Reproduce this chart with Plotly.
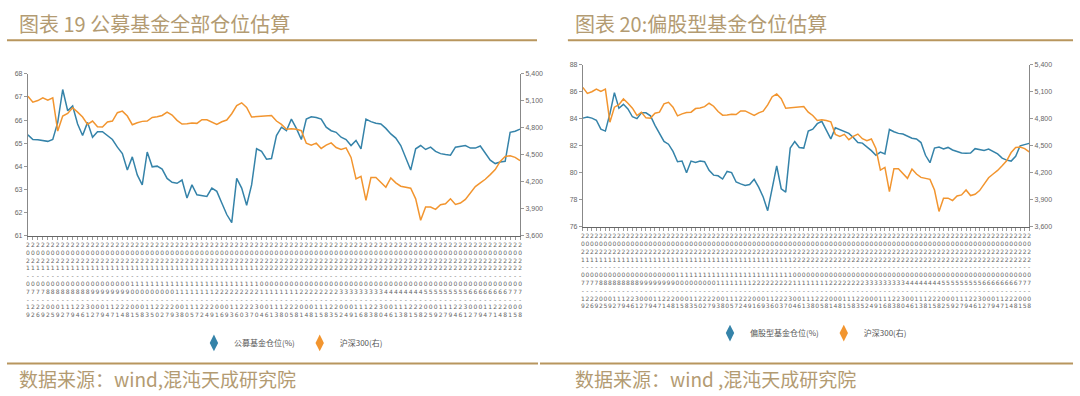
import plotly.graph_objects as go
import pandas as pd
import numpy as np

# ---------------- data ----------------
fund_all = [65.36, 65.16, 65.15, 65.12, 65.08, 65.16, 65.90, 67.32, 66.40, 66.61,
            65.83, 65.33, 65.90, 65.26, 65.50, 65.50, 65.33, 65.16, 64.83, 64.55,
            63.84, 64.41, 63.63, 63.20, 64.62, 63.98, 64.01, 63.88, 63.48, 63.31,
            63.27, 63.41, 62.63, 63.20, 62.77, 62.75, 62.70, 63.06, 62.92, 62.42,
            61.92, 61.57, 63.48, 63.06, 62.32, 63.20, 64.76, 64.65, 64.31, 64.34,
            65.33, 65.69, 65.54, 66.04, 65.64, 65.16, 66.04, 66.14, 66.11, 66.04,
            65.69, 65.54, 65.47, 65.26, 65.16, 64.90, 65.12, 64.76, 66.04, 65.93,
            65.86, 65.83, 65.64, 65.40, 65.22, 64.90, 64.37, 63.84, 64.76, 64.90,
            64.73, 64.83, 64.65, 64.55, 64.51, 64.48, 64.83, 64.86, 64.90, 64.79,
            64.79, 64.88, 64.55, 64.27, 64.12, 64.19, 64.22, 65.47, 65.52, 65.61]

fund_equity = [84.06, 84.14, 84.06, 83.90, 83.24, 83.10, 84.38, 85.95, 84.79, 85.08,
               84.74, 84.16, 84.02, 84.45, 84.45, 84.23, 83.53, 82.88, 82.33, 82.13,
               81.60, 80.83, 80.88, 80.01, 80.88, 80.78, 80.88, 80.83, 80.20, 79.84,
               79.79, 79.55, 80.11, 80.03, 79.33, 79.19, 79.07, 79.14, 79.53, 78.95,
               78.22, 77.21, 78.95, 80.52, 78.83, 78.58, 81.84, 82.33, 81.89, 81.84,
               83.10, 83.24, 83.65, 83.82, 83.17, 82.52, 83.34, 83.22, 83.10, 82.93,
               82.62, 82.25, 82.21, 81.96, 81.65, 81.31, 81.55, 81.41, 83.22, 83.05,
               82.93, 82.88, 82.74, 82.57, 82.52, 82.25, 81.31, 80.76, 81.84, 81.92,
               81.77, 81.89, 81.70, 81.58, 81.48, 81.46, 81.48, 81.80, 81.75, 81.67,
               81.77, 81.60, 81.41, 81.10, 80.95, 80.88, 81.24, 82.01, 82.08, 82.19]

hs300 = [5150, 5084, 5102, 5132, 5106, 5132, 4764, 4930, 4959, 5022,
         4974, 4919, 4838, 4875, 4812, 4809, 4864, 4875, 4967, 4985,
         4930, 4834, 4856, 4871, 4875, 4915, 4922, 4937, 4974, 4941,
         4882, 4842, 4845, 4853, 4849, 4889, 4889, 4860, 4838, 4867,
         4886, 4956, 5047, 5077, 5025, 4919, 4922, 4926, 4930, 4937,
         4875, 4838, 4783, 4790, 4783, 4768, 4629, 4607, 4629, 4570,
         4607, 4632, 4581, 4559, 4577, 4471, 4232, 4261, 3993, 4247,
         4247, 4188, 4140, 4243, 4188, 4151, 4144, 4129, 4011, 3773,
         3920, 3920, 3894, 3945, 3956, 4011, 3949, 3964, 4004, 4078,
         4147, 4188, 4228, 4280, 4335, 4427, 4482, 4489, 4471, 4434]

# date labels (one per sampled point, trading days 2021-07 .. 2022-07)
all_days = pd.bdate_range("2021-07-19", "2022-07-08")
pick = np.linspace(0, len(all_days) - 1, len(hs300)).round().astype(int)
dates = [all_days[i].strftime("%Y-%m-%d") for i in pick]
tick_text = ["<br>".join(d) for d in dates]

title_left = "图表 19 公募基金全部仓位估算"
title_right = "图表 20:偏股型基金仓位估算"
source_left = "数据来源：wind,混沌天成研究院"
source_right = "数据来源：wind ,混沌天成研究院"
name_all = "公募基金仓位(%)"
name_eq = "偏股型基金仓位(%)"
name_hs = "沪深300(右)"

# ---------------- styling ----------------
BLUE = "#3583A9"
ORANGE = "#F2952F"
GOLD = "#B8965E"
GOLD_TXT = "#B39B72"
TICK_FONT = dict(family="Liberation Sans Narrow, Liberation Sans, Arial, sans-serif", size=7, color="#666666")
CJK = "Noto Sans CJK SC, Noto Sans, sans-serif"
W, H = 1080, 396


def px_x(p):
    return p / W


def px_y(p):
    return 1 - p / H


fig = go.Figure()

# left chart
fig.add_trace(go.Scatter(x=dates, y=fund_all, xaxis="x", yaxis="y", mode="lines",
                         line=dict(color=BLUE, width=1.5), showlegend=False, name=name_all))
fig.add_trace(go.Scatter(x=dates, y=hs300, xaxis="x", yaxis="y2", mode="lines",
                         line=dict(color=ORANGE, width=1.5), showlegend=False, name=name_hs))
# right chart
fig.add_trace(go.Scatter(x=dates, y=fund_equity, xaxis="x2", yaxis="y3", mode="lines",
                         line=dict(color=BLUE, width=1.5), showlegend=False, name=name_eq))
fig.add_trace(go.Scatter(x=dates, y=hs300, xaxis="x2", yaxis="y4", mode="lines",
                         line=dict(color=ORANGE, width=1.5), showlegend=False, name=name_hs))

# legend entries (tall diamond symbol)
for nm, col, lg, xa, ya in [(name_all, BLUE, "legend", "x", "y"),
                             (name_hs, ORANGE, "legend", "x", "y2"),
                             (name_eq, BLUE, "legend2", "x2", "y3"),
                             (name_hs, ORANGE, "legend2", "x2", "y4")]:
    fig.add_trace(go.Scatter(x=[None], y=[None], xaxis=xa, yaxis=ya, mode="markers",
                             name=nm, legend=lg,
                             marker=dict(symbol="diamond-tall", size=12, color=col)))

N = len(dates)
xcommon = dict(type="category", range=[0, N - 1], tickmode="array", tickvals=dates,
               ticktext=tick_text, tickangle=0, tickfont=dict(family="DejaVu Sans, sans-serif", size=6, color="#666666"),
               ticks="outside", ticklen=3, tickcolor="#999999", showline=True,
               linecolor="#666666", linewidth=1, showgrid=False, zeroline=False, fixedrange=True)
ycommon = dict(ticks="outside", ticklen=3, tickcolor="#999999", showline=True,
               linecolor="#888888", linewidth=1, showgrid=False, zeroline=False,
               tickfont=TICK_FONT, fixedrange=True)

fig.update_layout(
    width=W, height=H,
    margin=dict(l=0, r=0, t=0, b=0),
    paper_bgcolor="white", plot_bgcolor="white",
    font=dict(family=CJK),
    xaxis=dict(domain=[px_x(26), px_x(520)], anchor="y", **xcommon),
    yaxis=dict(domain=[px_y(236), px_y(71)], anchor="x", range=[61, 68], dtick=1, **ycommon),
    yaxis2=dict(overlaying="y", side="right", anchor="x", range=[3600, 5400], dtick=300,
                tickformat=",", **ycommon),
    xaxis2=dict(domain=[px_x(583), px_x(1031)], anchor="y3", **xcommon),
    yaxis3=dict(domain=[px_y(227), px_y(62)], anchor="x2", range=[76, 88], dtick=2, **ycommon),
    yaxis4=dict(overlaying="y3", side="right", anchor="x2", range=[3600, 5400], dtick=300,
                tickformat=",", **ycommon),
    legend=dict(orientation="h", x=px_x(290), y=px_y(345), xanchor="center", yanchor="middle",
                font=dict(family=CJK, size=8, color="#555555"), itemwidth=30,
                bgcolor="rgba(0,0,0,0)", tracegroupgap=0),
    legend2=dict(orientation="h", x=px_x(812), y=px_y(335), xanchor="center", yanchor="middle",
                 font=dict(family=CJK, size=8, color="#555555"), itemwidth=30,
                 bgcolor="rgba(0,0,0,0)", tracegroupgap=0),
    showlegend=True,
)

# gold rules
for x0, x1, y in [(5, 537, 37), (568, 1075, 37), (5, 538, 366), (540, 1075, 366)]:
    fig.add_shape(type="line", xref="paper", yref="paper", x0=px_x(x0), x1=px_x(x1),
                  y0=px_y(y), y1=px_y(y), line=dict(color=GOLD, width=2))

# titles & sources
for txt, x, y, sz in [(title_left, 15, 20, 20), (title_right, 573, 20, 20),
                      (source_left, 15, 381, 19), (source_right, 573, 381, 19)]:
    fig.add_annotation(text=txt, xref="paper", yref="paper", x=px_x(x), y=px_y(y),
                       xanchor="left", yanchor="middle", showarrow=False,
                       font=dict(family=CJK, size=sz, color=GOLD_TXT))

fig.write_html("out.html", config={"displayModeBar": False},
               post_script="document.body.style.margin='0';document.body.style.overflow='hidden';")
